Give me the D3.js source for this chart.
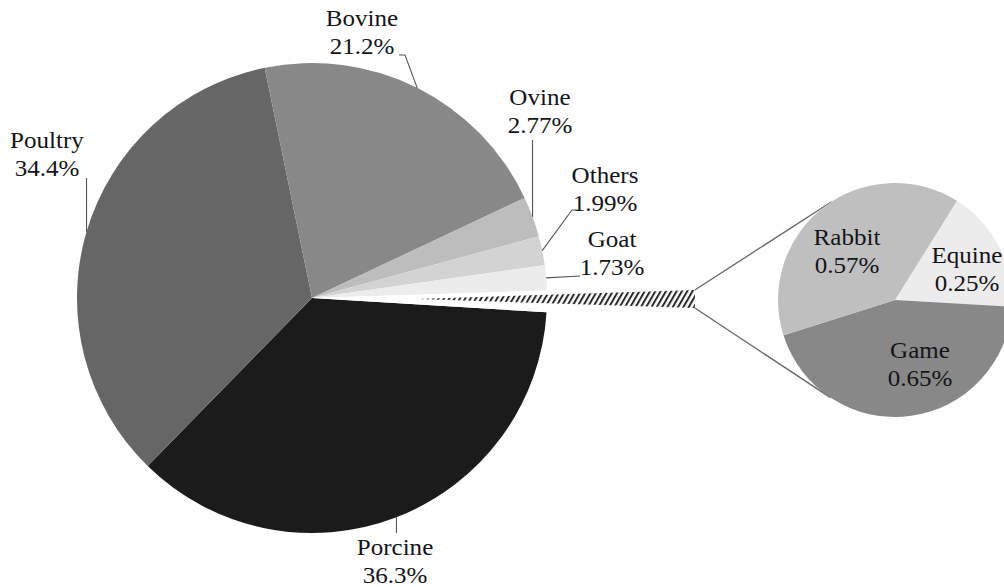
<!DOCTYPE html>
<html>
<head>
<meta charset="utf-8">
<script src="https://cdn.jsdelivr.net/npm/d3@7"></script>
<style>
  body { margin: 0; background: #fff; }
  text { font-family: "Liberation Serif", "Times New Roman", serif; font-size: 23px; fill: #141418; }
</style>
</head>
<body>
<svg id="chart" width="1004" height="587"></svg>
<script>
// main pie (share of meat production, %)
const mainNames = ['Porcine', 'Poultry', 'Bovine', 'Ovine', 'Others', 'Goat', 'Minor'];
const mainValues = [36.3, 34.4, 21.2, 2.77, 1.99, 1.73, 1.47];
const mainLabels = ['36.3%', '34.4%', '21.2%', '2.77%', '1.99%', '1.73%', ''];

// breakdown of the minor slice
const subNames = ['Equine', 'Game', 'Rabbit'];
const subValues = [0.25, 0.65, 0.57];
const subLabels = ['0.25%', '0.65%', '0.57%'];

const mainColors = { Porcine: '#1b1b1b', Poultry: '#666666', Bovine: '#888888', Ovine: '#bdbdbd',
  Others: '#d3d3d3', Goat: '#ececec', Minor: '#ffffff' };
const subColors = { Equine: '#ececec', Game: '#888888', Rabbit: '#bfbfbf' };

const svg = d3.select('#chart');
const deg = Math.PI / 180;

// main pie
const cx = 312, cy = 298, r = 235;
const start = 93.5 * deg;
const pie = d3.pie().sort(null).startAngle(start).endAngle(start + 2 * Math.PI);
const arc = d3.arc().innerRadius(0).outerRadius(r);
const mainData = pie(mainValues.map((v, i) => ({ name: mainNames[i], value: v, label: mainLabels[i] })).map(d => d.value))
  .map((p, i) => Object.assign(p, { name: mainNames[i], label: mainLabels[i] }));

const gMain = svg.append('g').attr('transform', `translate(${cx},${cy})`);
gMain.selectAll('path')
  .data(mainData)
  .enter()
  .append('path')
  .attr('d', arc)
  .attr('fill', d => mainColors[d.name]);

// hatched wedge pointing at the sub pie
const defs = svg.append('defs');
const pat = defs.append('pattern')
  .attr('id', 'hatch')
  .attr('patternUnits', 'userSpaceOnUse')
  .attr('width', 4.6).attr('height', 4.6)
  .attr('patternTransform', 'rotate(30)');
pat.append('rect').attr('width', 2).attr('height', 4.6).attr('fill', '#2a2a2a');

const wx = 416, wy = 299, wR = 279, wHalf = 1.85 * deg;
const wedge = d3.arc().innerRadius(0).outerRadius(wR)
  .startAngle(90 * deg - wHalf).endAngle(90 * deg + wHalf);
svg.append('path')
  .attr('transform', `translate(${wx},${wy})`)
  .attr('d', wedge())
  .attr('fill', 'url(#hatch)');

// sub pie
const sx = 895, sy = 300, sr = 117;
const subStart = 32 * deg;
const subPie = d3.pie().sort(null).startAngle(subStart).endAngle(subStart + 2 * Math.PI);
const subArc = d3.arc().innerRadius(0).outerRadius(sr);
const subData = subPie(subValues).map((p, i) => Object.assign(p, { name: subNames[i], label: subLabels[i] }));

// connectors: from wedge tips, tangent to sub pie
const tips = [
  [wx + wR * Math.cos(-wHalf), wy + wR * Math.sin(-wHalf), 1],
  [wx + wR * Math.cos(wHalf), wy + wR * Math.sin(wHalf), -1]
];
tips.forEach(([px, py, s]) => {
  const d = Math.hypot(px - sx, py - sy);
  const base = Math.atan2(py - sy, px - sx);
  const a = base + s * Math.acos(sr / d);
  svg.append('line')
    .attr('x1', px).attr('y1', py)
    .attr('x2', sx + sr * Math.cos(a)).attr('y2', sy + sr * Math.sin(a))
    .attr('stroke', '#666').attr('stroke-width', 1.3);
});

const gSub = svg.append('g').attr('transform', `translate(${sx},${sy})`);
gSub.selectAll('path')
  .data(subData)
  .enter()
  .append('path')
  .attr('d', subArc)
  .attr('fill', d => subColors[d.name]);

// label layout
const lineGap = 28;
const mainLayout = {
  Porcine: { x: 395, y: 555, lead: e => [[e[0], 533]] },
  Poultry: { x: 47, y: 148, lead: e => [[e[0], 178]] },
  Bovine: { x: 362, y: 26, lead: () => [[405, 55], [399, 55]] },
  Ovine: { x: 540, y: 105, lead: e => [[e[0], 140]] },
  Others: { x: 605, y: 183, lead: () => [[572, 210], [578, 210]] },
  Goat: { x: 612, y: 247, lead: () => [[580, 276]] }
};
const subLayout = {
  Rabbit: { x: 847, y: 245 },
  Equine: { x: 967, y: 263 },
  Game: { x: 920, y: 358 }
};

function addLabel(x, y, name, label) {
  const g = svg.append('g').attr('transform', `translate(${x},0) scale(1.09,1)`);
  g.append('text').attr('x', 0).attr('y', y).attr('text-anchor', 'middle').text(name);
  g.append('text').attr('x', 0).attr('y', y + lineGap).attr('text-anchor', 'middle').text(label);
}

mainData.filter(d => mainLayout[d.name]).forEach(d => {
  const L = mainLayout[d.name];
  const mid = (d.startAngle + d.endAngle) / 2;
  const edge = [cx + r * Math.sin(mid), cy - r * Math.cos(mid)];
  svg.append('path')
    .attr('d', d3.line()([edge].concat(L.lead(edge))))
    .attr('fill', 'none')
    .attr('stroke', '#555')
    .attr('stroke-width', 1.1);
  addLabel(L.x, L.y, d.name, d.label);
});

subData.forEach(d => {
  const L = subLayout[d.name];
  addLabel(L.x, L.y, d.name, d.label);
});
</script>
</body>
</html>
